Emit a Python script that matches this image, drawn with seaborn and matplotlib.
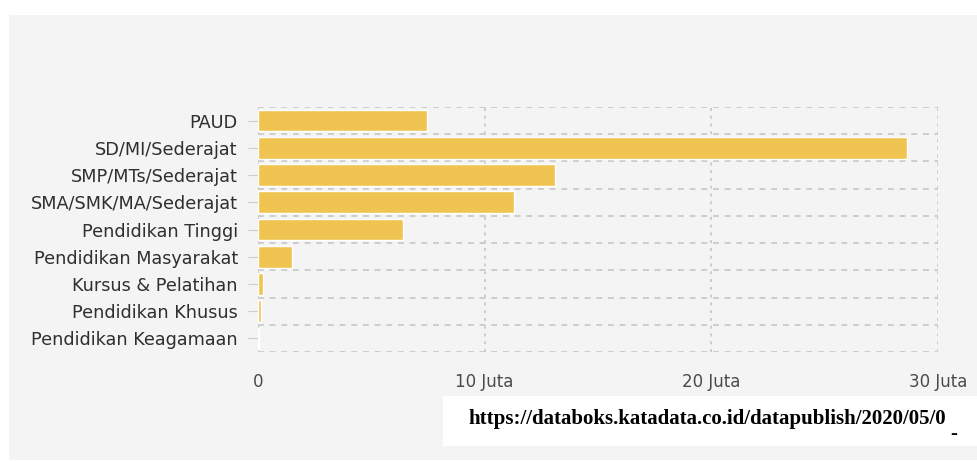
import matplotlib
matplotlib.use("Agg")
import matplotlib.pyplot as plt
import seaborn as sns
import numpy as np
import pandas as pd
from matplotlib.patches import Rectangle

categories = ["PAUD", "SD/MI/Sederajat", "SMP/MTs/Sederajat", "SMA/SMK/MA/Sederajat",
              "Pendidikan Tinggi", "Pendidikan Masyarakat", "Kursus & Pelatihan",
              "Pendidikan Khusus", "Pendidikan Keagamaan"]
values_juta = [7.46, 28.65, 13.11, 11.30, 6.40, 1.50, 0.22, 0.13, 0.04]
x_ticks = [0, 10, 20, 30]
x_tick_labels = ["0", "10 Juta", "20 Juta", "30 Juta"]
source_text = "https://databoks.katadata.co.id/datapublish/2020/05/0"

sns.set_theme(style="white")
plt.rcParams['font.family'] = ['DejaVu Sans']

W, H = 978, 461
fig = plt.figure(figsize=(W / 100, H / 100), dpi=100, facecolor="white")
fig.patches.append(Rectangle((9 / W, 1 / H), 1 - 9 / W, (460 - 15) / H,
                             transform=fig.transFigure, facecolor="#f4f4f4",
                             edgecolor="none", zorder=-5))

ax = fig.add_axes([258 / W, 1 - 352 / H, (938 - 258) / W, (352 - 107) / H])
ax.set_zorder(1)
ax.set_facecolor("#f4f4f4")

df = pd.DataFrame({"cat": categories, "val": values_juta})
sns.barplot(data=df, x="val", y="cat", orient="h", color="#efc451",
            saturation=1, width=0.8, ax=ax, zorder=3)

ax.set_xlim(0, 30)
ax.set_ylim(8.5, -0.5)
ax.set_xlabel("")
ax.set_ylabel("")
ax.set_xticks(x_ticks)
ax.set_xticklabels(x_tick_labels)
ax.set_yticks(np.arange(-0.5, 9, 1), minor=True)

for s in ax.spines.values():
    s.set_visible(False)

ax.grid(axis="x", which="major", linestyle=(0, (1.5, 2.5)), color="#cccccc", linewidth=1.4, zorder=1)
ax.grid(axis="y", which="minor", linestyle=(0, (3, 3)), color="#cccccc", linewidth=1.4, zorder=1)
ax.grid(axis="y", which="major", visible=False)
ax.set_axisbelow(True)

ax.tick_params(axis="y", which="major", length=7, width=0.8, color="#cccccc",
               pad=7.5, labelsize=12.7, labelcolor="#2f2f2f", left=True)
ax.tick_params(axis="y", which="minor", length=0)
ax.tick_params(axis="x", which="major", length=0, pad=15, labelsize=12, labelcolor="#4a4a4a")

fig.patches.append(Rectangle((443 / W, 1 - 446 / H), 1 - 443 / W, 50 / H,
                             transform=fig.transFigure, facecolor="white",
                             edgecolor="none", zorder=5))
fig.text(468 / W, 1 - 419 / H, source_text, family="Liberation Serif", fontweight="bold",
         fontsize=15, color="black", ha="left", va="center", zorder=6)
fig.text(954 / W, 1 - 434 / H, "-", family="Liberation Serif", fontweight="bold",
         fontsize=15, color="black", ha="center", va="center", zorder=6)

fig.savefig("out.png", dpi=100, facecolor="white")
